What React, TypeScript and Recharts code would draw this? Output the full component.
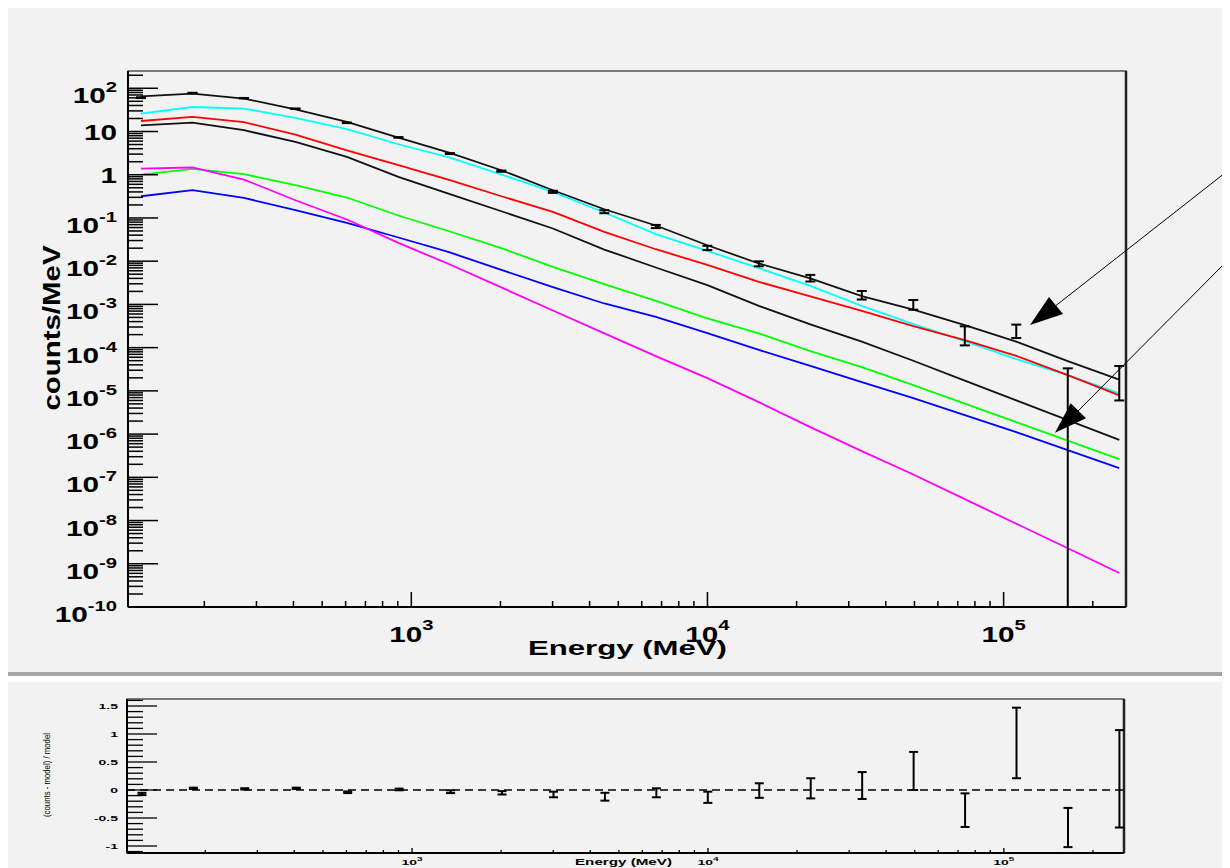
import React from 'react';
import { ComposedChart, Line, Scatter, XAxis, YAxis, ErrorBar, ReferenceLine, ReferenceArea } from 'recharts';

// Bin centres (MeV)
const energy = [122.2, 182.4, 272.1, 406.1, 606.0, 904.4, 1349.6, 2014, 3006, 4485, 6693, 9990, 14908, 22250, 33200, 49550, 73950, 110350, 164700, 245800];

// Model curves (counts/MeV)
const totalModel = [65.3, 75.4, 57.8, 32.7, 16.6, 7.24, 3.19, 1.27, 0.438, 0.159, 0.0669, 0.0234, 0.00885, 0.00398, 0.00155, 7.57e-4, 3.31e-4, 1.38e-4, 4.88e-5, 1.82e-5];
const cyanModel = [26.0, 36.9, 33.9, 20.6, 11.3, 5.07, 2.5, 1.01, 0.4, 0.134, 0.0421, 0.0173, 0.00689, 0.00269, 9.27e-4, 3.49e-4, 1.41e-4, 5.42e-5, 2.31e-5, 8.73e-6];
const redModel = [17.5, 21.7, 16.4, 8.5, 3.68, 1.66, 0.746, 0.318, 0.138, 0.0476, 0.0189, 0.0082, 0.00332, 0.00153, 7.1e-4, 3.14e-4, 1.49e-4, 6.46e-5, 2.31e-5, 7.85e-6];
const black2Model = [13.9, 16.1, 10.7, 5.73, 2.58, 0.889, 0.354, 0.143, 0.057, 0.0186, 0.00715, 0.00279, 9.27e-4, 3.44e-4, 1.38e-4, 4.98e-5, 1.73e-5, 6.05e-6, 2.11e-6, 7.35e-7];
const greenModel = [1.01, 1.36, 1.03, 0.572, 0.297, 0.114, 0.0486, 0.02, 0.00738, 0.00294, 0.00121, 4.73e-4, 2.13e-4, 8.3e-5, 3.54e-5, 1.36e-5, 5.07e-6, 1.89e-6, 7.08e-7, 2.64e-7];
const blueModel = [0.318, 0.438, 0.291, 0.151, 0.0769, 0.0353, 0.0159, 0.0063, 0.00251, 0.00105, 5.15e-4, 2.16e-4, 8.89e-5, 3.79e-5, 1.59e-5, 6.79e-6, 2.75e-6, 1.11e-6, 4.27e-7, 1.64e-7];
const magentaModel = [1.39, 1.47, 0.774, 0.257, 0.092, 0.0265, 0.00839, 0.00247, 7.24e-4, 2.13e-4, 6.36e-5, 1.97e-5, 5.5e-6, 1.45e-6, 4.05e-7, 1.16e-7, 3.13e-8, 8.43e-9, 2.28e-9, 6.11e-10];

// Observed counts and errors
const counts = [60.7, 77.7, 59.0, 33.7, 15.9, 7.31, 3.09, 1.21, 0.403, 0.14, 0.0636, 0.0204, 0.00876, 0.0041, 0.00167, 1.01e-3, 2.12e-4, 2.54e-4, 1.61e-5, 2.18e-5];
const countsErr = [1.31, 0.9, 0.69, 0.39, 0.25, 0.109, 0.08, 0.038, 0.0219, 0.0111, 0.00535, 0.00234, 0.00115, 7.16e-4, 3.72e-4, 2.57e-4, 9.93e-5, 8.69e-5, 1.71e-5, 1.58e-5];

// Residuals (counts - model) / model
const residual = [-0.07, 0.03, 0.02, 0.03, -0.04, 0.01, -0.03, -0.05, -0.08, -0.12, -0.05, -0.13, -0.01, 0.03, 0.08, 0.34, -0.36, 0.84, -0.67, 0.2];
const residualErr = [0.02, 0.012, 0.012, 0.012, 0.015, 0.015, 0.025, 0.03, 0.05, 0.07, 0.08, 0.1, 0.13, 0.18, 0.24, 0.34, 0.3, 0.63, 0.35, 0.87];

// Axis settings / ticks
const X_DOMAIN_TOP: [number, number] = [110.5, 259000];
const X_DOMAIN_BOT: [number, number] = [108.8, 254700];
const Y_DOMAIN_TOP: [number, number] = [1e-10, 251];
const Y_DOMAIN_BOT: [number, number] = [-1.125, 1.625];
const mantissas = [1, 2, 3, 4, 5, 6, 7, 8, 9];
const yDecades = [-10, -9, -8, -7, -6, -5, -4, -3, -2, -1, 0, 1, 2];
const xDecades = [2, 3, 4, 5];
const resTickTenths = [-11, -10, -9, -8, -7, -6, -5, -4, -3, -2, -1, 0, 1, 2, 3, 4, 5, 6, 7, 8, 9, 10, 11, 12, 13, 14, 15, 16];

const BG = '#f2f2f2';
const FONT = '"Liberation Sans", Arial, Helvetica, sans-serif';

const inDomain = (v: number, d: [number, number]) => v >= d[0] * 0.9999 && v <= d[1] * 1.0001;
const yTicks: number[] = [];
yDecades.forEach((d) => mantissas.forEach((m) => {
  const v = m * Math.pow(10, d);
  if (inDomain(v, Y_DOMAIN_TOP)) yTicks.push(v);
}));
const xTicksTop: number[] = [];
const xTicksBot: number[] = [];
xDecades.forEach((d) => mantissas.forEach((m) => {
  const v = m * Math.pow(10, d);
  if (inDomain(v, X_DOMAIN_TOP)) xTicksTop.push(v);
  if (inDomain(v, X_DOMAIN_BOT)) xTicksBot.push(v);
}));
const resTicks = resTickTenths.map((t) => t / 10);

const rows = energy.map((e, i) => ({
  energy: e,
  total: totalModel[i],
  cyan: cyanModel[i],
  red: redModel[i],
  black2: black2Model[i],
  green: greenModel[i],
  blue: blueModel[i],
  magenta: magentaModel[i],
  counts: counts[i],
  countsErr: [Math.min(countsErr[i], counts[i] - Y_DOMAIN_TOP[0]), countsErr[i]],
  res: residual[i],
  resErr: residualErr[i],
}));

const decadeInfo = (v: number) => {
  const exp = Math.round(Math.log10(v));
  const major = Math.abs(v / Math.pow(10, exp) - 1) < 1e-6;
  return { exp, major };
};

const YTickTop = (props: any) => {
  const { x, y, payload } = props;
  const { exp, major } = decadeInfo(payload.value);
  const len = major ? 30 : 15;
  let label = null;
  if (major) {
    if (exp === 0 || exp === 1) {
      label = (
        <text transform={`translate(${x - 11} ${y + 8}) scale(1.35 1)`} textAnchor="end" fontFamily={FONT} fontWeight="bold" fontSize={22} fill="#000">
          {exp === 0 ? '1' : '10'}
        </text>
      );
    } else {
      label = (
        <text transform={`translate(${x - 11} ${y + 15}) scale(1.35 1)`} textAnchor="end" fontFamily={FONT} fontWeight="bold" fontSize={22} fill="#000">
          10<tspan fontSize={15} dy={-11}>{String(exp)}</tspan>
        </text>
      );
    }
  }
  return (
    <g>
      <line x1={x} y1={y} x2={x + len} y2={y} stroke="#000" strokeWidth={1.5} />
      {label}
    </g>
  );
};

const XTickTop = (props: any) => {
  const { x, y, payload } = props;
  const { exp, major } = decadeInfo(payload.value);
  const len = major ? 15 : 6;
  return (
    <g>
      <line x1={x} y1={y} x2={x} y2={y - len} stroke="#000" strokeWidth={1.5} />
      {major && (
        <text transform={`translate(${x} ${y + 35}) scale(1.35 1)`} textAnchor="middle" fontFamily={FONT} fontWeight="bold" fontSize={22} fill="#000">
          10<tspan fontSize={15} dy={-12}>{String(exp)}</tspan>
        </text>
      )}
    </g>
  );
};

const YTickBot = (props: any) => {
  const { x, y, payload } = props;
  const v = payload.value as number;
  const tenths = Math.round(v * 10);
  const major = tenths % 5 === 0;
  const len = major ? 30 : 16;
  return (
    <g>
      <line x1={x} y1={y} x2={x + len} y2={y} stroke="#000" strokeWidth={1.3} />
      {major && (
        <text transform={`translate(${x - 9} ${y + 2.5}) scale(2 1)`} textAnchor="end" fontFamily={FONT} fontWeight="bold" fontSize={7} fill="#000">
          {String(tenths / 10)}
        </text>
      )}
    </g>
  );
};

const XTickBot = (props: any) => {
  const { x, y, payload } = props;
  const { exp, major } = decadeInfo(payload.value);
  const len = major ? 5 : 3;
  return (
    <g>
      <line x1={x} y1={y} x2={x} y2={y - len} stroke="#000" strokeWidth={1.3} />
      {major && (
        <text transform={`translate(${x} ${y + 12}) scale(2 1)`} textAnchor="middle" fontFamily={FONT} fontWeight="bold" fontSize={7} fill="#000">
          10<tspan fontSize={5} dy={-4}>{String(exp)}</tspan>
        </text>
      )}
    </g>
  );
};

const hidden = () => <g />;

export default function App() {
  return (
    <div style={{ position: 'relative', width: 1222, height: 860, background: '#ffffff', overflow: 'hidden' }}>
      <div style={{ position: 'absolute', left: 0, top: 0, width: 1222, height: 664, background: BG }}>
        <ComposedChart width={1222} height={664} data={rows} margin={{ top: 63, right: 104, bottom: 0, left: 0 }}>
          <ReferenceArea x1={X_DOMAIN_TOP[0]} x2={X_DOMAIN_TOP[1]} y1={Y_DOMAIN_TOP[0]} y2={Y_DOMAIN_TOP[1]} fill="none" stroke="#000" strokeWidth={1.2} fillOpacity={0} />
          <XAxis dataKey="energy" type="number" scale="log" domain={X_DOMAIN_TOP} allowDataOverflow ticks={xTicksTop} interval={0}
            tick={(p: any) => <XTickTop {...p} />} tickLine={false} tickSize={0} tickMargin={0} height={65}
            axisLine={{ stroke: '#000', strokeWidth: 2 }} />
          <YAxis type="number" scale="log" domain={Y_DOMAIN_TOP} allowDataOverflow ticks={yTicks} interval={0}
            tick={(p: any) => <YTickTop {...p} />} tickLine={false} tickSize={0} tickMargin={0} width={120}
            axisLine={{ stroke: '#000', strokeWidth: 2 }} />
          <ReferenceLine x={X_DOMAIN_TOP[1]} stroke="#222" strokeWidth={2.5} />
          <Line dataKey="total" stroke="#111" strokeWidth={1.8} dot={false} isAnimationActive={false} type="linear" />
          <Line dataKey="cyan" stroke="#00ffff" strokeWidth={1.8} dot={false} isAnimationActive={false} type="linear" />
          <Line dataKey="red" stroke="#ff0000" strokeWidth={1.8} dot={false} isAnimationActive={false} type="linear" />
          <Line dataKey="black2" stroke="#111" strokeWidth={1.8} dot={false} isAnimationActive={false} type="linear" />
          <Line dataKey="green" stroke="#00ff00" strokeWidth={1.8} dot={false} isAnimationActive={false} type="linear" />
          <Line dataKey="blue" stroke="#0000ff" strokeWidth={1.8} dot={false} isAnimationActive={false} type="linear" />
          <Line dataKey="magenta" stroke="#ff00ff" strokeWidth={1.8} dot={false} isAnimationActive={false} type="linear" />
          <Scatter dataKey="counts" shape={hidden} isAnimationActive={false}>
            <ErrorBar dataKey="countsErr" direction="y" width={5} stroke="#000" strokeWidth={2} />
          </Scatter>
        </ComposedChart>
      </div>
      <div style={{ position: 'absolute', left: 0, top: 664, width: 1222, height: 4, background: '#a6a6a6' }} />
      <div style={{ position: 'absolute', left: 0, top: 674, width: 1222, height: 186, background: BG }}>
        <ComposedChart width={1222} height={186} data={rows} margin={{ top: 17, right: 106, bottom: 0, left: 0 }}>
          <ReferenceArea x1={X_DOMAIN_BOT[0]} x2={X_DOMAIN_BOT[1]} y1={Y_DOMAIN_BOT[0]} y2={Y_DOMAIN_BOT[1]} fill="none" stroke="#000" strokeWidth={1.2} fillOpacity={0} />
          <XAxis dataKey="energy" type="number" scale="log" domain={X_DOMAIN_BOT} allowDataOverflow ticks={xTicksBot} interval={0}
            tick={(p: any) => <XTickBot {...p} />} tickLine={false} tickSize={0} tickMargin={0} height={15}
            axisLine={{ stroke: '#000', strokeWidth: 2 }} />
          <YAxis type="number" domain={Y_DOMAIN_BOT} allowDataOverflow ticks={resTicks} interval={0}
            tick={(p: any) => <YTickBot {...p} />} tickLine={false} tickSize={0} tickMargin={0} width={119}
            axisLine={{ stroke: '#000', strokeWidth: 2 }} />
          <ReferenceLine x={X_DOMAIN_BOT[1]} stroke="#222" strokeWidth={2.5} />
          <ReferenceLine y={0} stroke="#000" strokeWidth={1.3} strokeDasharray="8 5" />
          <Scatter dataKey="res" shape={hidden} isAnimationActive={false}>
            <ErrorBar dataKey="resErr" direction="y" width={4.5} stroke="#000" strokeWidth={2} />
          </Scatter>
        </ComposedChart>
      </div>
      <svg width={1222} height={860} style={{ position: 'absolute', left: 0, top: 0, pointerEvents: 'none' }}>
        <text x={619.5} y={647} textAnchor="middle" fontFamily={FONT} fontWeight="bold" fontSize={21} textLength={199} lengthAdjust="spacingAndGlyphs" fill="#000">Energy (MeV)</text>
        <text transform="translate(52 320) rotate(-90)" textAnchor="middle" fontFamily={FONT} fontWeight="bold" fontSize={24} textLength={165} lengthAdjust="spacingAndGlyphs" fill="#000">counts/MeV</text>
        <text transform="translate(42 767) rotate(-90)" textAnchor="middle" fontFamily={FONT} fontSize={8.5} textLength={84} lengthAdjust="spacingAndGlyphs" fill="#000">(counts - model) / model</text>
        <text x={615.5} y={856.5} textAnchor="middle" fontFamily={FONT} fontWeight="bold" fontSize={8.5} textLength={97} lengthAdjust="spacingAndGlyphs" fill="#000">Energy (MeV)</text>
        <line x1={1222} y1={161} x2={1048} y2={297.5} stroke="#000" strokeWidth={1} />
        <polygon points="1022,317 1041,289 1055,306" fill="#000" />
        <line x1={1222} y1={250} x2={1070} y2={403} stroke="#000" strokeWidth={1} />
        <polygon points="1047,424.7 1062.7,395.3 1078,410.3" fill="#000" />
      </svg>
    </div>
  );
}
